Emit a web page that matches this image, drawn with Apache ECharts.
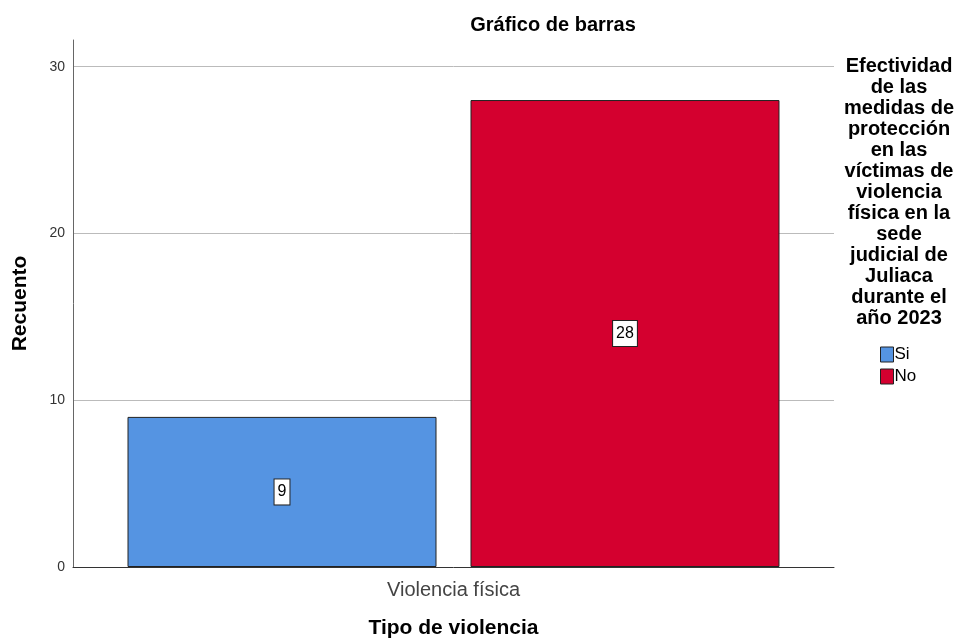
<!DOCTYPE html>
<html><head><meta charset="utf-8">
<script src="https://cdn.jsdelivr.net/npm/echarts@6/dist/echarts.min.js"></script>
<style>html,body{margin:0;padding:0;background:#fff}#c{width:960px;height:641px}</style>
</head><body><div id="c"></div>
<script>
const categories = ["Violencia física"];
const seriesNames = ["Si", "No"];
const valuesSi = [9];
const valuesNo = [28];
const colors = ["#5594E2", "#D4002F"];
const legendTitle = ["Efectividad","de las","medidas de","protección","en las","víctimas de","violencia","física en la","sede","judicial de","Juliaca","durante el","año 2023"];
const FF = "Liberation Sans, Arial, sans-serif";
const chart = echarts.init(document.getElementById('c'));
const lbl = {
  show: true, position: 'inside', color: '#000', fontSize: 16, lineHeight: 17, fontFamily: FF,
  backgroundColor: '#fff', borderColor: '#222', borderWidth: 1, padding: [4, 3, 4, 3]
};
chart.setOption({
  animation: false,
  textStyle: { fontFamily: FF },
  title: [
    { text: 'Gráfico de barras', left: 548, top: 10, textAlign: 'center',
      textStyle: { fontSize: 20, fontWeight: 'bold', color: '#000', fontFamily: FF } },
    { text: legendTitle.join('\n'), left: 894, top: 51, textAlign: 'center',
      textStyle: { fontSize: 20, fontWeight: 'bold', color: '#000', lineHeight: 21, fontFamily: FF } }
  ],
  legend: {
    orient: 'vertical', left: 875, top: 341, itemWidth: 13, itemHeight: 15, itemGap: 5,
    data: seriesNames, icon: 'rect',
    textStyle: { fontSize: 17, color: '#000', padding: [0, 0, 0, -4], fontFamily: FF },
    itemStyle: { borderColor: '#222', borderWidth: 1 }
  },
  grid: { left: 73, right: 126, top: 40, bottom: 74, outerBoundsMode: 'none', containLabel: false },
  xAxis: {
    type: 'category', data: categories,
    axisLine: { lineStyle: { color: '#333', width: 1 } },
    axisTick: { show: false },
    axisLabel: { fontSize: 20, color: '#444', margin: 13, fontFamily: FF },
    name: 'Tipo de violencia', nameLocation: 'middle', nameGap: 51,
    nameTextStyle: { fontSize: 21, fontWeight: 'bold', color: '#000', fontFamily: FF }
  },
  yAxis: {
    type: 'value', min: 0, max: 31.6, interval: 10,
    axisLine: { show: true, lineStyle: { color: '#666', width: 1 } },
    axisTick: { show: false },
    axisLabel: { fontSize: 14, color: '#333', margin: 8, showMaxLabel: false,
      formatter: v => (v % 10 === 0 ? String(v) : '') },
    splitLine: { show: true, showMaxLine: false, showMinLine: false, lineStyle: { color: '#bbb', width: 1 } },
    name: 'Recuento', nameLocation: 'middle', nameGap: 42, nameRotate: 90,
    nameTextStyle: { fontSize: 21, fontWeight: 'bold', color: '#000', fontFamily: FF }
  },
  series: [
    { name: seriesNames[0], type: 'bar', data: valuesSi, barWidth: 309, barGap: '11%',
      itemStyle: { color: colors[0], borderColor: '#222', borderWidth: 1 }, label: lbl },
    { name: seriesNames[1], type: 'bar', data: valuesNo, barWidth: 309, barGap: '11%',
      itemStyle: { color: colors[1], borderColor: '#222', borderWidth: 1 }, label: lbl }
  ]
});
</script></body></html>
